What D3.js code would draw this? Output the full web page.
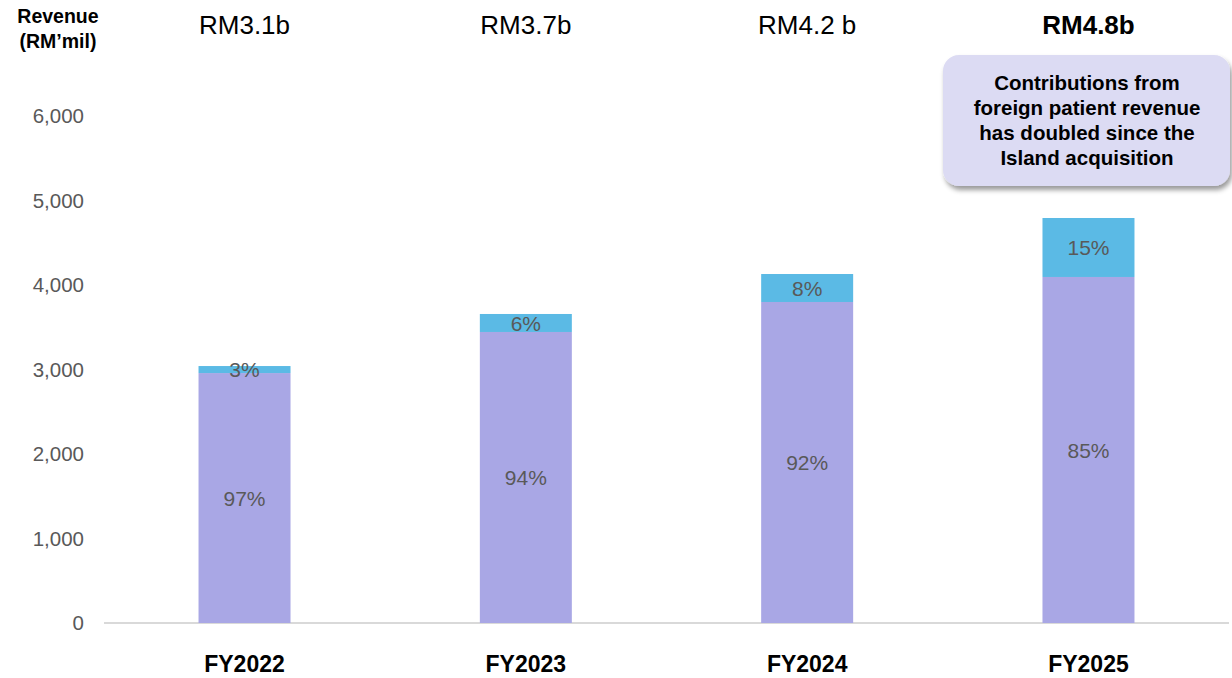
<!DOCTYPE html>
<html><head><meta charset="utf-8">
<script src="https://cdn.jsdelivr.net/npm/d3@7"></script>
<style>body{margin:0;background:#fff;font-family:"Liberation Sans",Arial,sans-serif;}</style>
</head><body>
<svg id="c" width="1232" height="678"></svg>
<script>
const categories = ["FY2022","FY2023","FY2024","FY2025"];
const domestic = [2958, 3444, 3799, 4095];
const foreign = [83, 213, 331, 698];
const domesticPct = ["97%","94%","92%","85%"];
const foreignPct = ["3%","6%","8%","15%"];
const totalLabels = ["RM3.1b","RM3.7b","RM4.2 b","RM4.8b"];
const yTicks = [0,1000,2000,3000,4000,5000,6000];
const note = ["Contributions from","foreign patient revenue","has doubled since the","Island acquisition"];

const svg = d3.select("#c");
const x = d3.scaleBand().domain(categories).range([104, 1229]).paddingInner(0.673).paddingOuter(0.336);
const y = d3.scaleLinear().domain([0, 6000]).range([623, 116]);

// axis line
svg.append("line").attr("x1",104).attr("x2",1229).attr("y1",y(0)).attr("y2",y(0))
  .attr("stroke","#d9d9d9").attr("stroke-width",2);

// y tick labels
svg.selectAll(".yt").data(yTicks).enter().append("text")
  .attr("x",84).attr("y",d=>y(d)).attr("dy","0.36em").attr("text-anchor","end")
  .attr("font-size",20.5).attr("fill","#595959").text(d=>d3.format(",")(d));

const bw = x.bandwidth();
// bars
svg.selectAll(".dom").data(categories).enter().append("rect")
  .attr("x",d=>x(d)).attr("width",bw)
  .attr("y",(d,i)=>y(domestic[i])).attr("height",(d,i)=>y(0)-y(domestic[i]))
  .attr("fill","#a9a7e5");
svg.selectAll(".for").data(categories).enter().append("rect")
  .attr("x",d=>x(d)).attr("width",bw)
  .attr("y",(d,i)=>y(domestic[i]+foreign[i])).attr("height",(d,i)=>y(domestic[i])-y(domestic[i]+foreign[i]))
  .attr("fill","#5bbae5");

// pct labels
svg.selectAll(".dp").data(categories).enter().append("text")
  .attr("x",d=>x(d)+bw/2).attr("y",(d,i)=>y(domestic[i]/2)).attr("dy","0.36em")
  .attr("text-anchor","middle").attr("font-size",21).attr("fill","#595959").text((d,i)=>domesticPct[i]);
svg.selectAll(".fp").data(categories).enter().append("text")
  .attr("x",d=>x(d)+bw/2).attr("y",(d,i)=>y(domestic[i]+foreign[i]/2)).attr("dy","0.36em")
  .attr("text-anchor","middle").attr("font-size",21).attr("fill","#595959").text((d,i)=>foreignPct[i]);

// x labels
svg.selectAll(".xl").data(categories).enter().append("text")
  .attr("x",d=>x(d)+bw/2).attr("y",672)
  .attr("text-anchor","middle").attr("font-size",23).attr("font-weight","bold").attr("fill","#000").text(d=>d);

// top total labels
svg.selectAll(".tl").data(categories).enter().append("text")
  .attr("x",d=>x(d)+bw/2).attr("y",34)
  .attr("text-anchor","middle").attr("font-size",26)
  .attr("font-weight",(d,i)=>i===3?"bold":"normal").attr("fill","#000").text((d,i)=>totalLabels[i]);

// y axis title
svg.append("text").attr("x",58).attr("y",23).attr("text-anchor","middle").attr("font-size",19.5)
  .attr("font-weight","bold").text("Revenue");
svg.append("text").attr("x",58).attr("y",48).attr("text-anchor","middle").attr("font-size",19.5)
  .attr("font-weight","bold").text("(RM\u2019mil)");

// callout box
const defs = svg.append("defs");
const f = defs.append("filter").attr("id","sh").attr("x","-10%").attr("y","-10%").attr("width","130%").attr("height","140%");
f.append("feDropShadow").attr("dx",2).attr("dy",4).attr("stdDeviation",2.5).attr("flood-color","#000").attr("flood-opacity",0.4);
svg.append("rect").attr("x",943).attr("y",55).attr("width",287).attr("height",131).attr("rx",16)
  .attr("fill","#dcdbf3").attr("filter","url(#sh)");
svg.selectAll(".nt").data(note).enter().append("text")
  .attr("x",1087).attr("y",(d,i)=>83+i*25).attr("dy","0.36em").attr("text-anchor","middle")
  .attr("font-size",20.5).attr("font-weight","bold").attr("fill","#000").text(d=>d);
</script>
</body></html>
